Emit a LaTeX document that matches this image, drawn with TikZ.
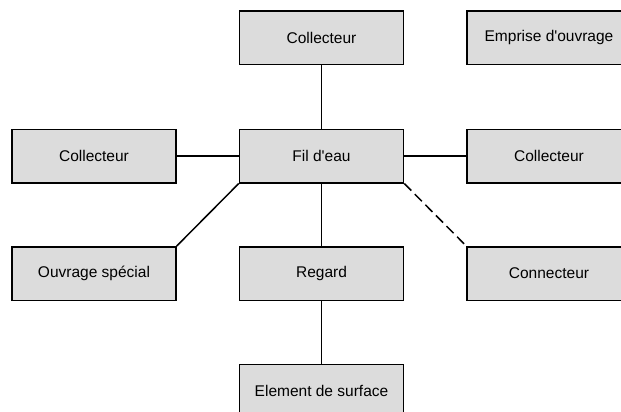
\documentclass[tikz,border=0pt]{standalone}
\usepackage{fontspec}
\newfontfamily\boxfont{Liberation Sans}
\definecolor{boxfill}{RGB}{220,220,220}
\begin{document}
\begin{tikzpicture}[x=1pt,y=-1pt,
  entity/.style={draw=black,fill=boxfill,line width=1.5pt,minimum width=164pt,minimum height=53.5pt,inner sep=0pt,font=\boxfont\fontsize{15.5pt}{18pt}\selectfont},
  link/.style={line width=1.5pt},
  dlink/.style={line width=1.5pt,dash pattern=on 10pt off 5pt}]
\useasboundingbox (0,0) rectangle (621,412);
\clip (0,0) rectangle (621,412);
\node[entity] (ctop) at (321.5,37.7) {Collecteur};
\node[entity] (emp) at (549,37.7) {Emprise d'ouvrage};
\node[entity] (cleft) at (94,156) {Collecteur};
\node[entity] (fil) at (321.5,156) {Fil d'eau};
\node[entity] (cright) at (549,156) {Collecteur};
\node[entity] (ouv) at (94,273.5) {Ouvrage spécial};
\node[entity] (reg) at (321.5,273.5) {Regard};
\node[entity] (con) at (549,273.5) {Connecteur};
\node[entity] (elem) at (321.5,391) {Element de surface};
\draw[link] (fil) -- (ctop);
\draw[link] (fil) -- (cleft);
\draw[link] (fil) -- (cright);
\draw[link] (fil.south west) -- (ouv.north east);
\draw[link] (fil) -- (reg);
\draw[dlink] (fil.south east) -- (con.north west);
\draw[link] (reg) -- (elem);
\end{tikzpicture}
\end{document}
